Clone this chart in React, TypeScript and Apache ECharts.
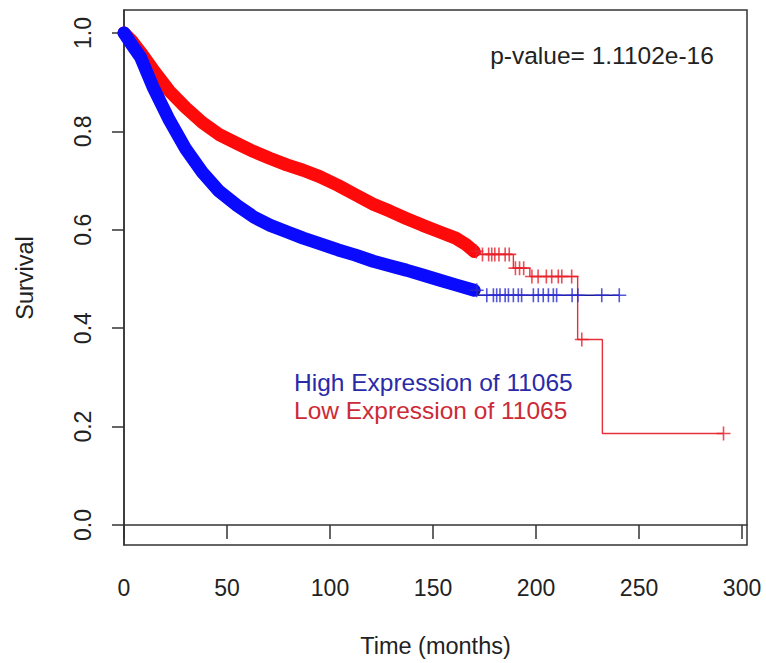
import React, { useEffect, useRef } from "react";
import * as echarts from "echarts";

const W = 766;
const H = 663;

// Axis ticks
const xTicks = [0, 50, 100, 150, 200, 250, 300];
const yTicks = [0, 0.2, 0.4, 0.6, 0.8, 1.0];

// High expression (blue): dense part of the Kaplan-Meier curve
const highBandTime = [0, 4, 8, 14, 22, 30, 38, 46, 55, 63, 71, 79, 87, 95, 104, 112, 121, 129, 137, 145, 153, 161, 170];
const highBandSurv = [1.0, 0.975, 0.951, 0.891, 0.823, 0.764, 0.717, 0.679, 0.649, 0.626, 0.609, 0.596, 0.583, 0.572, 0.559, 0.549, 0.536, 0.527, 0.518, 0.508, 0.498, 0.488, 0.477];

// Low expression (red): dense part
const lowBandTime = [0, 4, 8, 14, 22, 30, 38, 46, 55, 63, 71, 79, 87, 95, 104, 112, 121, 129, 137, 145, 153, 161, 166, 170];
const lowBandSurv = [1.0, 0.983, 0.961, 0.926, 0.882, 0.848, 0.818, 0.794, 0.775, 0.759, 0.745, 0.732, 0.721, 0.708, 0.69, 0.672, 0.652, 0.638, 0.623, 0.609, 0.596, 0.583, 0.57, 0.556];

// Sparse tails (step curves)
const highTailTime = [170, 172, 240.4];
const highTailSurv = [0.477, 0.467, 0.467];
const lowTailTime = [170, 173, 189, 197, 220.2, 232.2, 291];
const lowTailSurv = [0.556, 0.55, 0.522, 0.505, 0.377, 0.186, 0.186];

// Censoring marks in the tails
const highCensorTime = [171.2, 176.1, 179.3, 180.9, 182.5, 185, 186.6, 189, 191.4, 193, 198.7, 201.1, 203.5, 206, 208.4, 210, 217.5, 220.3, 231.9, 240.4];
const lowCensorTime = [171, 174, 177, 178.5, 180, 182, 185, 187, 190, 192, 194, 198, 201, 205, 207.6, 210.8, 212.5, 217.3, 222.2, 291];

const pValueText = "p-value= 1.1102e-16";
const highLabel = "High Expression of 11065";
const lowLabel = "Low Expression of 11065";

function zip(a: number[], b: number[]) {
  return a.map((t, i) => [t, b[i]]);
}
function stepAt(times: number[], surv: number[], t: number) {
  let v = surv[0];
  for (let i = 0; i < times.length; i++) if (times[i] <= t) v = surv[i];
  return v;
}

const PLUS = "path://M6.2,0H7.8V14H6.2Z M0,6.2H14V7.8H0Z";
const FONT = "'Liberation Sans', Arial, Helvetica, sans-serif";
const TXT = "#222";

export default function App() {
  const ref = useRef<HTMLDivElement>(null);
  useEffect(() => {
    document.body.style.margin = "0";
    const chart = echarts.init(ref.current!, null, { renderer: "svg", width: W, height: H });
    const option: any = {
      animation: false,
      backgroundColor: "#fff",
      textStyle: { fontFamily: FONT },
      grid: { left: 124, top: 10, right: 19, bottom: 118, show: true, borderColor: "#333", borderWidth: 1.5, backgroundColor: "transparent" },
      xAxis: {
        type: "value",
        min: 0,
        max: 302.4,
        splitLine: { show: false },
        axisLine: { show: true, lineStyle: { color: "#333", width: 1.5 } },
        axisTick: { show: true, length: 14, lineStyle: { color: "#333", width: 1.5 }, customValues: xTicks },
        axisLabel: { customValues: xTicks, fontSize: 23, color: TXT, margin: 31, fontFamily: FONT },
      },
      yAxis: {
        type: "value",
        min: -0.0407,
        max: 1.0467,
        splitLine: { show: false },
        axisLine: { show: true, lineStyle: { color: "#333", width: 1.5 } },
        axisTick: { show: true, length: 12, lineStyle: { color: "#333", width: 1.5 }, customValues: yTicks },
        axisLabel: {
          customValues: yTicks,
          rotate: 90,
          fontSize: 23,
          color: TXT,
          margin: 30,
          fontFamily: FONT,
          formatter: (v: number) => v.toFixed(1),
        },
      },
      series: [
        {
          type: "line",
          data: zip(lowBandTime, lowBandSurv),
          symbol: "none",
          silent: true,
          z: 2,
          lineStyle: { color: "#ff0a0a", width: 13, cap: "round", join: "round" },
        },
        {
          type: "line",
          data: zip(highBandTime, highBandSurv),
          symbol: "none",
          silent: true,
          z: 3,
          lineStyle: { color: "#0a0aff", width: 13, cap: "round", join: "round" },
        },
        {
          type: "line",
          step: "end",
          data: zip(lowTailTime, lowTailSurv),
          symbol: "none",
          silent: true,
          z: 4,
          lineStyle: { color: "#e8303c", width: 1.4 },
        },
        {
          type: "line",
          step: "end",
          data: zip(highTailTime, highTailSurv),
          symbol: "none",
          silent: true,
          z: 4,
          lineStyle: { color: "#1a1a96", width: 1.4 },
        },
        {
          type: "scatter",
          data: lowCensorTime.map((t) => [t, stepAt(lowTailTime, lowTailSurv, t)]),
          symbol: PLUS,
          symbolSize: 14,
          silent: true,
          z: 5,
          itemStyle: { color: "#e8202a" },
        },
        {
          type: "scatter",
          data: highCensorTime.map((t) => [t, stepAt(highTailTime, highTailSurv, t)]),
          symbol: PLUS,
          symbolSize: 14,
          silent: true,
          z: 5,
          itemStyle: { color: "#2a2ad0" },
        },
      ],
      graphic: [
        { type: "text", x: 602, y: 55, style: { text: pValueText, fill: TXT, font: `24.5px ${FONT}`, align: "center", verticalAlign: "middle" } },
        { type: "text", x: 294, y: 382, style: { text: highLabel, fill: "#2a2aa8", font: `24.5px ${FONT}`, align: "left", verticalAlign: "middle" } },
        { type: "text", x: 294, y: 410, style: { text: lowLabel, fill: "#cc2a36", font: `24.5px ${FONT}`, align: "left", verticalAlign: "middle" } },
        { type: "text", x: 435.5, y: 646, style: { text: "Time (months)", fill: TXT, font: `23.5px ${FONT}`, align: "center", verticalAlign: "middle" } },
        { type: "text", x: 25, y: 278, rotation: Math.PI / 2, style: { text: "Survival", fill: TXT, font: `23.5px ${FONT}`, align: "center", verticalAlign: "middle" } },
      ],
    };
    chart.setOption(option);
    return () => chart.dispose();
  }, []);
  return <div ref={ref} style={{ width: W, height: H }} />;
}
